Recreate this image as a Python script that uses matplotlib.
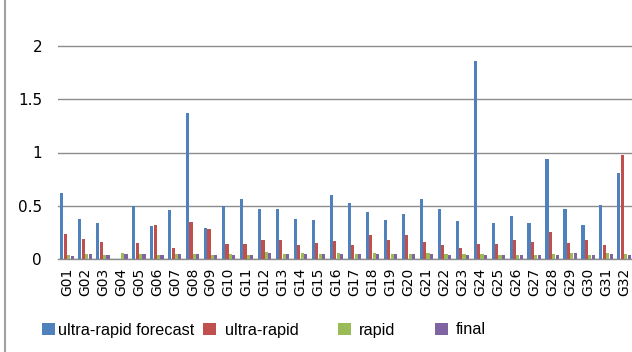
import matplotlib
matplotlib.use("Agg")
import matplotlib.pyplot as plt
import numpy as np
from matplotlib.lines import Line2D

plt.rcParams['font.family'] = ['DejaVu Sans']

satellites = ["G%02d" % i for i in range(1, 33)]
ultra_rapid_forecast = [0.62, 0.38, 0.34, 0.00, 0.50, 0.31, 0.46, 1.37, 0.29, 0.50,
                        0.56, 0.47, 0.47, 0.38, 0.37, 0.60, 0.53, 0.44, 0.37, 0.42,
                        0.56, 0.47, 0.36, 1.86, 0.34, 0.41, 0.34, 0.94, 0.47, 0.32,
                        0.51, 0.81]
ultra_rapid = [0.24, 0.19, 0.16, 0.00, 0.15, 0.32, 0.11, 0.35, 0.28, 0.14,
               0.14, 0.18, 0.18, 0.13, 0.15, 0.17, 0.13, 0.23, 0.18, 0.23,
               0.16, 0.13, 0.11, 0.14, 0.14, 0.18, 0.16, 0.26, 0.15, 0.18,
               0.13, 0.98]
rapid = [0.04, 0.05, 0.04, 0.06, 0.05, 0.04, 0.05, 0.05, 0.04, 0.05,
         0.04, 0.07, 0.05, 0.06, 0.05, 0.06, 0.05, 0.06, 0.05, 0.05,
         0.06, 0.05, 0.05, 0.05, 0.04, 0.04, 0.04, 0.05, 0.06, 0.04,
         0.06, 0.05]
final = [0.03, 0.05, 0.04, 0.05, 0.05, 0.04, 0.05, 0.05, 0.04, 0.04,
         0.04, 0.06, 0.05, 0.05, 0.05, 0.05, 0.05, 0.05, 0.05, 0.05,
         0.05, 0.04, 0.04, 0.04, 0.04, 0.04, 0.04, 0.04, 0.06, 0.04,
         0.05, 0.04]

series = [("ultra-rapid forecast", ultra_rapid_forecast, "#4F81BD"),
          ("ultra-rapid", ultra_rapid, "#C0504D"),
          ("rapid", rapid, "#9BBB59"),
          ("final", final, "#8064A2")]

fig = plt.figure(figsize=(6.32, 3.52), dpi=100)
ax = fig.add_axes([58 / 632, 92.7 / 352, 575 / 632, 259.3 / 352])

x = np.arange(len(satellites))
w = 0.19
handles = []
for i, (name, vals, col) in enumerate(series):
    b = ax.bar(x + (i - 1.5) * w, vals, width=w * 0.92, color=col, label=name, zorder=3)
    handles.append(b)

ax.set_xlim(-0.5, len(satellites) - 0.5)
ax.set_ylim(0, 259.3 / 106.8)
ax.set_yticks([0, 0.5, 1, 1.5, 2])
ax.set_yticklabels(["0", "0.5", "1", "1.5", "2"], fontsize=11)
ax.yaxis.grid(True, color="#8c8c8c", linewidth=1.0, zorder=0)
ax.set_xticks(x)
ax.set_xticklabels(satellites, rotation=90, fontsize=10)
ax.tick_params(axis="both", length=0)
ax.tick_params(axis="y", pad=11.5)
ax.tick_params(axis="x", pad=6)
for s in ["top", "right", "left"]:
    ax.spines[s].set_visible(False)
ax.spines["bottom"].set_color("#8c8c8c")
ax.spines["bottom"].set_linewidth(1.0)

# legend items positioned individually (pixel x of swatch left edge, text pad)
leg_x = [42, 203, 338, 435]
leg_pad = [0.2, 0.6, 0.5, 0.5]
for h, (name, _, _), lx, pad in zip(handles, series, leg_x, leg_pad):
    lg = fig.legend(handles=[h], labels=[name], loc="center left",
                    bbox_to_anchor=(lx / 632, 1 - 330 / 352), frameon=False,
                    prop={"family": "Liberation Sans", "size": 11.7},
                    handlelength=0.78, handleheight=0.8, handletextpad=pad,
                    borderpad=0, borderaxespad=0)

fig.add_artist(Line2D([5 / 632, 5 / 632], [0, 1], transform=fig.transFigure,
                      color="#a0a0a0", linewidth=1.5))

fig.savefig("out.png", dpi=100)
